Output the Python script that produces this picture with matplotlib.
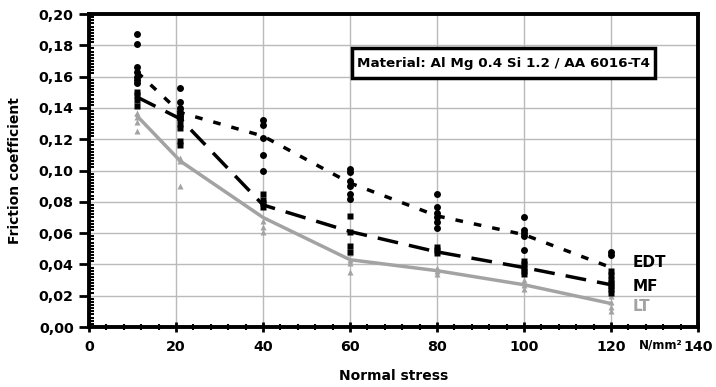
import matplotlib
matplotlib.use("Agg")
import matplotlib.pyplot as plt
from matplotlib.patches import Rectangle
from matplotlib.ticker import MultipleLocator, FuncFormatter

plt.rcParams['font.family'] = ['DejaVu Sans']
plt.rcParams['font.weight'] = 'bold'

# mean curves
stress = [11, 21, 40, 60, 80, 100, 120]
edt_mean = [0.163, 0.137, 0.122, 0.092, 0.071, 0.059, 0.038]
mf_mean = [0.147, 0.133, 0.078, 0.061, 0.048, 0.038, 0.027]
lt_mean = [0.135, 0.106, 0.070, 0.043, 0.036, 0.027, 0.015]

# single measurements
edt_x = [11] * 7 + [21] * 6 + [40] * 5 + [60] * 6 + [80] * 6 + [100] * 5 + [120] * 2
edt_y = [0.187, 0.181, 0.166, 0.163, 0.160, 0.158, 0.156,
         0.153, 0.144, 0.140, 0.137, 0.135, 0.133,
         0.132, 0.129, 0.121, 0.110, 0.100,
         0.101, 0.099, 0.093, 0.090, 0.085, 0.082,
         0.085, 0.077, 0.073, 0.070, 0.067, 0.063,
         0.070, 0.062, 0.060, 0.058, 0.049,
         0.048, 0.046]

mf_x = [11] * 4 + [21] * 6 + [40] * 4 + [60] * 4 + [80] * 3 + [100] * 5 + [120] * 7
mf_y = [0.150, 0.148, 0.145, 0.141,
        0.138, 0.134, 0.130, 0.127, 0.119, 0.116,
        0.085, 0.081, 0.079, 0.077,
        0.071, 0.061, 0.052, 0.048,
        0.051, 0.049, 0.047,
        0.042, 0.040, 0.038, 0.036, 0.034,
        0.036, 0.033, 0.030, 0.028, 0.026, 0.024, 0.022]

lt_x = [11] * 5 + [21] * 3 + [40] * 3 + [60] * 4 + [80] * 3 + [100] * 3 + [120] * 4
lt_y = [0.142, 0.137, 0.134, 0.131, 0.125,
        0.108, 0.106, 0.090,
        0.068, 0.064, 0.061,
        0.047, 0.043, 0.041, 0.035,
        0.038, 0.036, 0.034,
        0.030, 0.027, 0.024,
        0.020, 0.016, 0.013, 0.010]

grey = '#a3a3a3'

fig = plt.figure(figsize=(7.16, 3.87), dpi=100)
ax = fig.add_axes([0.1243, 0.155, 0.8507, 0.8088])

ax.plot(lt_x, lt_y, '^', color=grey, ms=5, mec='none', zorder=3)
ax.plot(mf_x, mf_y, 's', color='black', ms=5, mec='none', zorder=3)
ax.plot(edt_x, edt_y, 'o', color='black', ms=5, mec='none', zorder=3)

ax.plot(stress, edt_mean, color='black', lw=2.5, dashes=(2.2, 3.2), zorder=4)
ax.plot(stress, mf_mean, color='black', lw=2.5, dashes=(6.0, 3.2), zorder=4)
ax.plot(stress, lt_mean, color=grey, lw=2.5, zorder=4)

ax.set_xlim(0, 140)
ax.set_ylim(0, 0.20)
ax.xaxis.set_major_locator(MultipleLocator(20))
ax.xaxis.set_minor_locator(MultipleLocator(4))
ax.yaxis.set_major_locator(MultipleLocator(0.02))
ax.yaxis.set_minor_locator(MultipleLocator(0.002))
ax.yaxis.set_major_formatter(FuncFormatter(lambda v, p: f'{v:.2f}'.replace('.', ',')))

ax.grid(True, which='major', color='#bababa', lw=1.0, zorder=0)
ax.set_axisbelow(True)
for s in ax.spines.values():
    s.set_linewidth(2.8)

ax.tick_params(axis='both', which='major', labelsize=10.3, width=2, length=7, direction='inout')
ax.tick_params(axis='y', which='major', direction='out', length=7, pad=4)
ax.tick_params(axis='both', which='minor', width=1.5, length=4, direction='inout')
ax.tick_params(axis='y', which='minor', direction='in', length=3.5)
ax.tick_params(axis='x', which='major', pad=6)
for lbl in ax.get_xticklabels() + ax.get_yticklabels():
    lbl.set_fontweight('bold')

ax.set_xlabel('Normal stress', fontsize=10, fontweight='bold', labelpad=11)
ax.set_ylabel('Friction coefficient', fontsize=10, fontweight='bold', labelpad=12)

ax.text(131.5, -0.0118, 'N/mm²', fontsize=8.5, fontweight='bold', ha='center', va='center')

ax.text(125, 0.0415, 'EDT', fontsize=11, fontweight='bold', va='center')
ax.text(125, 0.0256, 'MF', fontsize=11, fontweight='bold', va='center')
ax.text(125, 0.0128, 'LT', fontsize=11, fontweight='bold', va='center', color=grey)

box = Rectangle((0.432, 0.7955), 0.497, 0.0955, transform=ax.transAxes,
                fc='white', ec='black', lw=2.5, zorder=5)
ax.add_patch(box)
ax.text(0.6805, 0.843, 'Material: Al Mg 0.4 Si 1.2 / AA 6016-T4', transform=ax.transAxes,
        fontsize=9.7, fontweight='bold', ha='center', va='center', zorder=6)

fig.savefig('out.png', dpi=100)
